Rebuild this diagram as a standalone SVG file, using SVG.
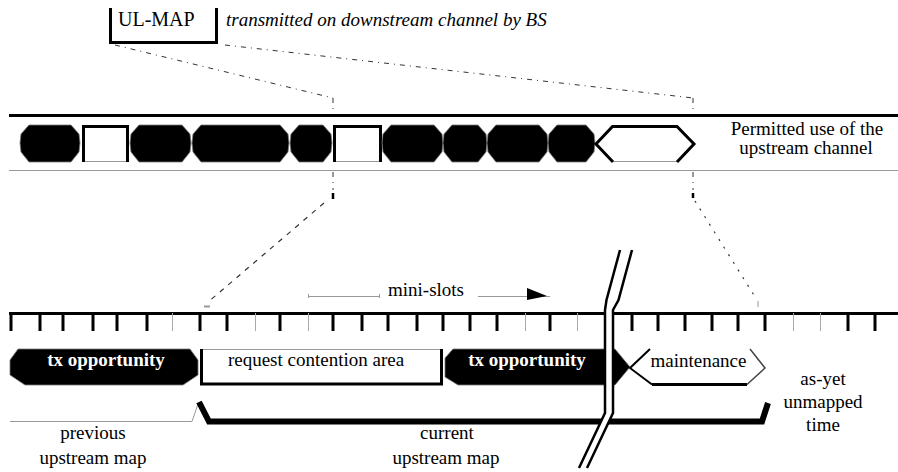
<svg xmlns="http://www.w3.org/2000/svg" width="898" height="472" viewBox="0 0 898 472">
<style>
text{font-family:"Liberation Serif","Times New Roman",serif;font-size:19px;fill:#000}
.it{font-style:italic}
.bw{font-weight:bold;fill:#fff}
.mid{text-anchor:middle}
.blk{fill:#000;stroke:#777;stroke-width:0.8}
.thk{fill:none;stroke:#000;stroke-width:3}
.gry{fill:none;stroke:#999;stroke-width:1}
.tick{stroke:#000;stroke-width:3}
.tickt{stroke:#aaa;stroke-width:1}
.dash{fill:none;stroke:#333;stroke-width:1;stroke-dasharray:5 5 1 5}
.dash2{fill:none;stroke:#333;stroke-width:1.2;stroke-dasharray:5 6}
.dot{fill:none;stroke:#333;stroke-width:1.2;stroke-dasharray:2 7}
</style>

<g id="ulmap">
<polyline class="thk" points="110.5,8 110.5,42.5 216.5,42.5 216.5,8"/>
<text x="118" y="26" style="font-size:20px">UL-MAP</text>
<text class="it" x="226" y="26">transmitted on downstream channel by BS</text>
</g>

<g id="connectors">
<line class="dash" x1="115" y1="45" x2="333" y2="98"/>
<line class="dash" x1="225" y1="45" x2="693" y2="98"/>
<line class="dash" x1="333" y1="98" x2="333" y2="110"/>
<line class="dash" x1="693" y1="98" x2="693" y2="110"/>
<line class="dash" x1="333" y1="172" x2="333" y2="190"/>
<line stroke="#000" stroke-width="2.5" x1="333" y1="193" x2="333" y2="199"/>
<line class="dash2" x1="324" y1="203" x2="207" y2="303"/>
<line stroke="#999" stroke-width="2" x1="204" y1="306.5" x2="210" y2="306.5"/>
<line class="dash" x1="693" y1="172" x2="693" y2="190"/>
<line stroke="#000" stroke-width="2.5" x1="693" y1="193" x2="693" y2="198"/>
<line class="dot" x1="695" y1="201" x2="757" y2="300"/>
<line stroke="#999" stroke-width="1" x1="758" y1="301" x2="758" y2="307"/>
</g>

<g id="upstream-band">
<line stroke="#000" stroke-width="3" x1="9" y1="115.5" x2="898" y2="115.5"/>
<line class="gry" x1="9" y1="170.5" x2="898" y2="170.5"/>
<polygon class="blk" points="29,125 71,125 79,134 80,143 79,152 71,162 29,162 21,152 20,143 21,134"/>
<line class="gry" x1="82" y1="161.5" x2="129" y2="161.5"/>
<polyline class="thk" points="83.5,162 83.5,126.5 127.5,126.5 127.5,162"/>
<polygon class="blk" points="139,125 182,125 190,134 191,143 190,152 182,162 139,162 131,152 130,143 131,134"/>
<polygon class="blk" points="201,125 280,125 288,134 289,143 288,152 280,162 201,162 193,152 192,143 193,134"/>
<polygon class="blk" points="299,125 323,125 331,134 332,143 331,152 323,162 299,162 291,152 290,143 291,134"/>
<line class="gry" x1="333" y1="161.5" x2="381" y2="161.5"/>
<polyline class="thk" points="334.5,162 334.5,126.5 380.5,126.5 380.5,162"/>
<polygon class="blk" points="391,125 434,125 442,134 443,143 442,152 434,162 391,162 383,152 382,143 383,134"/>
<polygon class="blk" points="452,125 478,125 486,134 487,143 486,152 478,162 452,162 444,152 443,143 444,134"/>
<polygon class="blk" points="496,125 539,125 547,134 548,143 547,152 539,162 496,162 488,152 487,143 488,134"/>
<polygon class="blk" points="557,125 586,125 594,134 595,143 594,152 586,162 557,162 549,152 548,143 549,134"/>
<line class="gry" x1="613" y1="161.5" x2="677" y2="161.5"/>
<polyline class="thk" points="613,162 596,144 612.5,126.5 677,126.5 694,144 677,162"/>
<text class="mid" x="807" y="135">Permitted use of the</text>
<text class="mid" x="806" y="154">upstream channel</text>
</g>

<g id="mini-slots">
<line class="gry" x1="308" y1="296.5" x2="380" y2="296.5"/>
<line class="gry" x1="308.5" y1="294" x2="308.5" y2="298"/>
<line class="gry" x1="379.5" y1="294" x2="379.5" y2="298"/>
<text x="388" y="296">mini-slots</text>
<line class="gry" x1="478" y1="296.5" x2="550" y2="296.5"/>
<polygon fill="#000" points="527,288 527,300 547,296"/>
</g>

<g id="ruler">
<line stroke="#000" stroke-width="3" x1="9" y1="313.5" x2="898" y2="313.5"/>
<g class="tick">
<line x1="11" y1="313" x2="11" y2="331"/><line x1="40" y1="313" x2="40" y2="331"/>
<line x1="63" y1="313" x2="63" y2="331"/><line x1="93" y1="313" x2="93" y2="331"/>
<line x1="117" y1="313" x2="117" y2="331"/><line x1="147" y1="313" x2="147" y2="331"/>
<line x1="200" y1="313" x2="200" y2="331"/><line x1="227" y1="313" x2="227" y2="331"/>
<line x1="280" y1="313" x2="280" y2="331"/><line x1="333" y1="313" x2="333" y2="331"/>
<line x1="362" y1="313" x2="362" y2="331"/><line x1="388" y1="313" x2="388" y2="331"/>
<line x1="417" y1="313" x2="417" y2="331"/><line x1="443" y1="313" x2="443" y2="331"/>
<line x1="470" y1="313" x2="470" y2="331"/><line x1="497" y1="313" x2="497" y2="331"/>
<line x1="550" y1="313" x2="550" y2="331"/><line x1="632" y1="313" x2="632" y2="331"/>
<line x1="658" y1="313" x2="658" y2="331"/><line x1="685" y1="313" x2="685" y2="331"/>
<line x1="712" y1="313" x2="712" y2="331"/><line x1="738" y1="313" x2="738" y2="331"/>
<line x1="765" y1="313" x2="765" y2="331"/><line x1="848" y1="313" x2="848" y2="331"/>
<line x1="875" y1="313" x2="875" y2="331"/>
</g>
<g class="tickt">
<line x1="172.5" y1="313" x2="172.5" y2="331"/><line x1="255.5" y1="313" x2="255.5" y2="331"/>
<line x1="308.5" y1="313" x2="308.5" y2="331"/><line x1="525.5" y1="313" x2="525.5" y2="331"/>
<line x1="577.5" y1="313" x2="577.5" y2="331"/><line x1="793.5" y1="313" x2="793.5" y2="331"/>
<line x1="820.5" y1="313" x2="820.5" y2="331"/>
</g>
</g>

<g id="tx1">
<polygon class="blk" points="18,349 190,349 198,360 198,375 183,385 25,385 10,375 10,360"/>
<text class="bw mid" x="106" y="366">tx opportunity</text>
</g>

<g id="contention">
<line class="gry" x1="200" y1="349.5" x2="443" y2="349.5"/>
<polyline class="thk" points="201.5,349 201.5,384 441.5,384 441.5,349"/>
<text class="mid" x="316" y="366">request contention area</text>
</g>

<g id="tx2">
<polygon class="blk" points="453,349 615,349 630,367 615,385 458,385 445,377 445,358"/>
<text class="bw mid" x="527" y="366">tx opportunity</text>
</g>

<g id="maintenance">
<polyline fill="none" stroke="#000" stroke-width="2" points="650,349 630,368 652,384.5"/>
<line stroke="#000" stroke-width="3" x1="652" y1="384.5" x2="747" y2="384.5"/>
<polyline fill="none" stroke="#444" stroke-width="1.5" points="750,349 765,368 747,384.5"/>
<text class="mid" x="698.5" y="367">maintenance</text>
</g>

<g id="unmapped">
<text class="mid" x="823" y="385">as-yet</text>
<text class="mid" x="823" y="408">unmapped</text>
<text class="mid" x="823" y="431">time</text>
</g>

<g id="previous-map">
<polyline class="gry" points="10,421.5 192,421.5 198,404"/>
<text class="mid" x="93" y="439">previous</text>
<text class="mid" x="93" y="464">upstream map</text>
</g>

<g id="current-map">
<polyline fill="none" stroke="#000" stroke-width="6" stroke-linejoin="miter" points="199,402 209,421.5 762,421.5 768,403"/>
<text class="mid" x="447" y="439">current</text>
<text class="mid" x="446" y="464">upstream map</text>
</g>

<g id="break">
<polygon fill="#fff" points="620,250 606,300 605,310 605,413 579,468 587,468 613,413 613,310 618,300 632,250"/>
<polyline fill="none" stroke="#000" stroke-width="2.5" points="620,250 606.5,300 605,310 605,413 579,468"/>
<polyline fill="none" stroke="#000" stroke-width="2.5" points="632,250 618.5,300 613,310 613,413 587,468"/>
</g>
</svg>
